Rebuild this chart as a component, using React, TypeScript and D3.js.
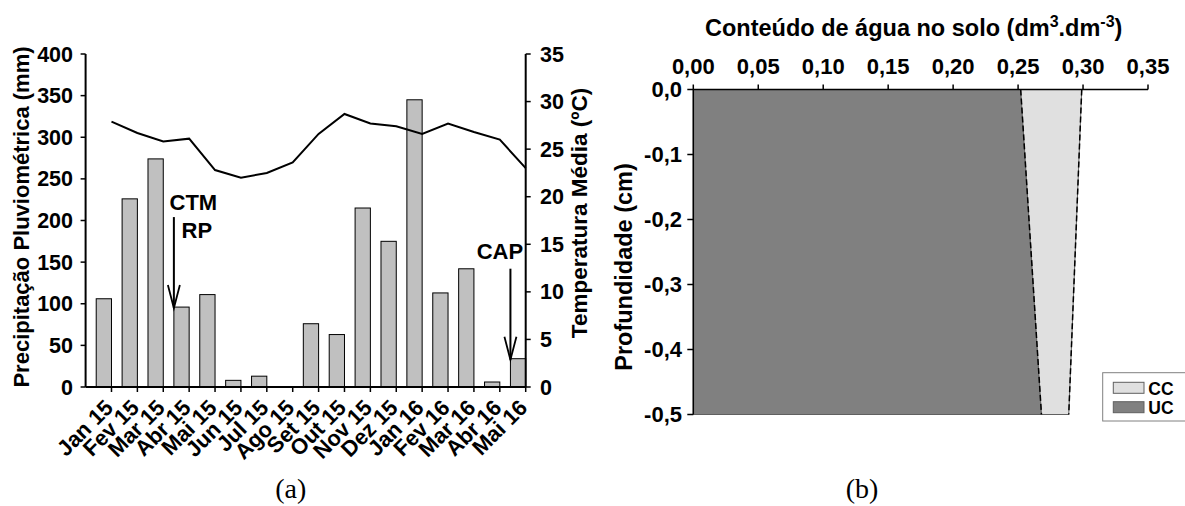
import React from "react";
import * as d3 from "d3";

// ---------- data ----------
const months = ["Jan 15", "Fev 15", "Mar 15", "Abr 15", "Mai 15", "Jun 15", "Jul 15", "Ago 15", "Set 15", "Out 15", "Nov 15", "Dez 15", "Jan 16", "Fev 16", "Mar 16", "Abr 16", "Mai 16"];
const precipitation = [106, 226, 274, 96, 111, 8, 13, 0, 76, 63, 215, 175, 345, 113, 142, 6, 34];
const temperature = [27.9, 26.7, 25.8, 26.1, 22.8, 22.0, 22.5, 23.6, 26.6, 28.7, 27.7, 27.4, 26.6, 27.7, 26.8, 26.0, 23.0];
const precipTicks = [0, 50, 100, 150, 200, 250, 300, 350, 400];
const tempTicks = [0, 5, 10, 15, 20, 25, 30, 35];
const annotations = [
  { month: "Abr 15", lines: ["CTM", "RP"] },
  { month: "Mai 16", lines: ["CAP"] },
];

const depths = [0, -0.5];
const ucValues = [0.252, 0.268];
const ccValues = [0.299, 0.289];
const waterTicks = [0, 0.05, 0.1, 0.15, 0.2, 0.25, 0.3, 0.35];
const depthTicks = [0, -0.1, -0.2, -0.3, -0.4, -0.5];
const legendItems = [
  { label: "CC", color: "#e0e0e0" },
  { label: "UC", color: "#808080" },
];

const FONT = "'Liberation Sans', Arial, Helvetica, sans-serif";
const locale = d3.formatLocale({ decimal: ",", thousands: ".", grouping: [3], currency: ["", ""], minus: "-" });
const fmt2 = locale.format(".2f");
const fmt1 = locale.format(".1f");

function ChartA() {
  const left = 85.6, right = 525.7, top = 54, bottom = 387;
  const x = d3.scaleBand<string>().domain(months).range([left, right]).paddingInner(0).paddingOuter(0);
  const bw = x.bandwidth();
  const yP = d3.scaleLinear().domain([0, 400]).range([bottom, top]);
  const yT = d3.scaleLinear().domain([0, 35]).range([bottom, top]);
  const line = d3
    .line<number>()
    .x((_, i) => (x(months[i]) as number) + bw)
    .y((d) => yT(d));

  return (
    <g fontFamily={FONT} fontWeight="bold">
      {precipitation.map((v, i) =>
        v > 0 ? (
          <rect
            key={i}
            x={(x(months[i]) as number) + bw * 0.41}
            y={yP(v)}
            width={bw * 0.59}
            height={yP(0) - yP(v)}
            fill="#c0c0c0"
            stroke="#000"
            strokeWidth={1}
          />
        ) : null
      )}
      <path d={line(temperature) || ""} fill="none" stroke="#000" strokeWidth={2} />

      <line x1={left} x2={left} y1={top} y2={bottom} stroke="#000" strokeWidth={2} />
      {precipTicks.map((t) => (
        <g key={t}>
          <line x1={left - 5} x2={left} y1={yP(t)} y2={yP(t)} stroke="#000" strokeWidth={1.5} />
          <text x={73} y={yP(t) + 7.5} textAnchor="end" fontSize={21.5}>
            {t}
          </text>
        </g>
      ))}
      <line x1={right} x2={right} y1={top} y2={bottom} stroke="#000" strokeWidth={2} />
      {tempTicks.map((t) => (
        <g key={t}>
          <line x1={right} x2={right + 5} y1={yT(t)} y2={yT(t)} stroke="#000" strokeWidth={1.5} />
          <text x={540} y={yT(t) + 7.5} textAnchor="start" fontSize={21.5}>
            {t}
          </text>
        </g>
      ))}
      <line x1={left} x2={right} y1={bottom} y2={bottom} stroke="#000" strokeWidth={2} />
      {months.map((m) => {
        const tx = (x(m) as number) + bw;
        return (
          <g key={m}>
            <line x1={tx} x2={tx} y1={bottom} y2={bottom + 5} stroke="#000" strokeWidth={1.5} />
            <text transform={`translate(${tx + 3},${409}) rotate(-45)`} textAnchor="end" fontSize={22}>
              {m}
            </text>
          </g>
        );
      })}

      <text transform={`translate(29,217) rotate(-90)`} textAnchor="middle" fontSize={22}>
        Precipitação Pluviométrica (mm)
      </text>
      <text transform={`translate(587,213) rotate(-90)`} textAnchor="middle" fontSize={22.5}>
        Temperatura Média (ºC)
      </text>

      {annotations.map((a) => {
        const i = months.indexOf(a.month);
        const ax = (x(a.month) as number) + bw * 0.41;
        const tip = yP(precipitation[i]) + 1;
        const start = tip - 91;
        return (
          <g key={a.month}>
            <line x1={ax} x2={ax} y1={start} y2={tip} stroke="#000" strokeWidth={2} />
            <polyline points={`${ax - 6},${tip - 23} ${ax},${tip} ${ax + 6},${tip - 23}`} fill="none" stroke="#000" strokeWidth={1.8} />
            {a.lines.length === 2 ? (
              <>
                <text x={ax + 19.5} y={start - 7} textAnchor="middle" fontSize={22}>
                  {a.lines[0]}
                </text>
                <text x={ax + 23} y={start + 21} textAnchor="middle" fontSize={22}>
                  {a.lines[1]}
                </text>
              </>
            ) : (
              <text x={ax - 10.5} y={start - 10} textAnchor="middle" fontSize={22}>
                {a.lines[0]}
              </text>
            )}
          </g>
        );
      })}
    </g>
  );
}

function ChartB() {
  const left = 693.3, right = 1148, top = 89.5, bottom = 414.5;
  const x = d3.scaleLinear().domain([0, 0.35]).range([left, right]);
  const y = d3.scaleLinear().domain([0, -0.5]).range([top, bottom]);

  const ucArea = d3
    .area<number>()
    .y((d) => y(d))
    .x0(() => x(0))
    .x1((_, i) => x(ucValues[i]));
  const ccArea = d3
    .area<number>()
    .y((d) => y(d))
    .x0((_, i) => x(ucValues[i]))
    .x1((_, i) => x(ccValues[i]));
  const boundary = d3.line<number>().x((d) => x(d)).y((_, i) => y(depths[i]));

  return (
    <g fontFamily={FONT} fontWeight="bold">
      <path d={ucArea(depths) || ""} fill="#808080" stroke="#606060" strokeWidth={1} />
      <path d={ccArea(depths) || ""} fill="#e0e0e0" stroke="#606060" strokeWidth={1} />
      <path d={boundary(ucValues) || ""} fill="none" stroke="#000" strokeWidth={1.5} strokeDasharray="6,3" />
      <path d={boundary(ccValues) || ""} fill="none" stroke="#000" strokeWidth={1.5} strokeDasharray="6,3" />

      <line x1={left} x2={right} y1={top} y2={top} stroke="#000" strokeWidth={1.5} />
      {waterTicks.map((t) => (
        <g key={t}>
          <line x1={x(t)} x2={x(t)} y1={top - 5} y2={top} stroke="#000" strokeWidth={1.5} />
          <text x={x(t)} y={73.5} textAnchor="middle" fontSize={22}>
            {fmt2(t)}
          </text>
        </g>
      ))}
      <line x1={left} x2={left} y1={top} y2={bottom} stroke="#000" strokeWidth={1.5} />
      {depthTicks.map((t) => (
        <g key={t}>
          <line x1={left - 6} x2={left} y1={y(t)} y2={y(t)} stroke="#000" strokeWidth={1.5} />
          <text x={682} y={y(t) + 7.5} textAnchor="end" fontSize={22}>
            {fmt1(t)}
          </text>
        </g>
      ))}

      <text x={913.7} y={36} textAnchor="middle" fontSize={23.5}>
        Conteúdo de água no solo (dm
        <tspan fontSize={16} dy={-9}>3</tspan>
        <tspan dy={9}>.dm</tspan>
        <tspan fontSize={16} dy={-9}>-3</tspan>
        <tspan dy={9}>)</tspan>
      </text>
      <text transform={`translate(632,267) rotate(-90)`} textAnchor="middle" fontSize={23.5}>
        Profundidade (cm)
      </text>

      <rect x={1102.7} y={372.7} width={90} height={48.3} fill="#fff" stroke="#808080" strokeWidth={1} />
      {legendItems.map((it, i) => (
        <g key={it.label}>
          <rect x={1113.3} y={382.3 + i * 19.4} width={30.7} height={11} fill={it.color} stroke="#606060" strokeWidth={1} />
          <text x={1148.3} y={394.5 + i * 19.4} fontSize={17.5}>
            {it.label}
          </text>
        </g>
      ))}
    </g>
  );
}

export default function App() {
  return (
    <svg
      width={1185}
      height={506}
      viewBox="0 0 1185 506"
      style={{ position: "absolute", left: 0, top: 0, background: "#fff" }}
    >
      <rect x={0} y={0} width={1185} height={506} fill="#fff" />
      <ChartA />
      <ChartB />
      <text x={290.8} y={498} textAnchor="middle" fontSize={28} fontFamily="'Liberation Serif', 'Times New Roman', serif">
        (a)
      </text>
      <text x={862} y={498} textAnchor="middle" fontSize={28} fontFamily="'Liberation Serif', 'Times New Roman', serif">
        (b)
      </text>
    </svg>
  );
}
